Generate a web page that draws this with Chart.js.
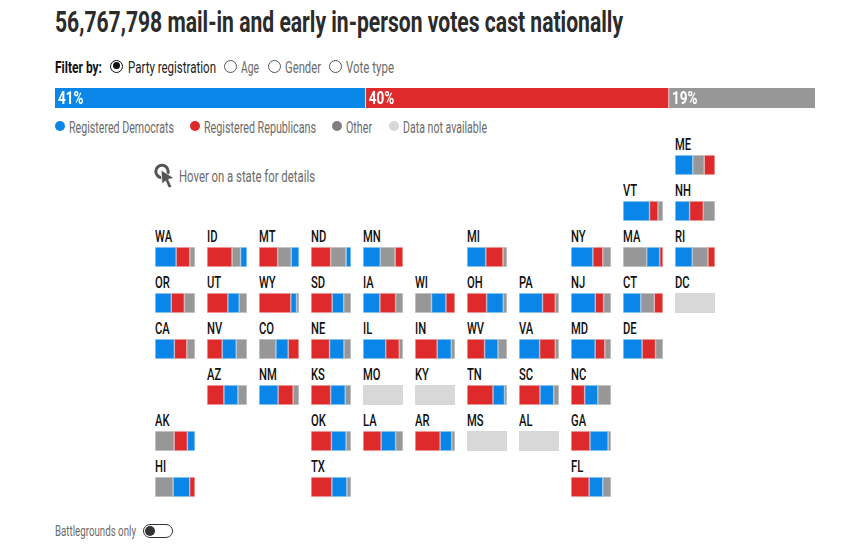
<!DOCTYPE html>
<html>
<head>
<meta charset="utf-8">
<title>Early votes</title>
<script src="https://cdn.jsdelivr.net/npm/chart.js@4"></script>
<style>
  html, body { margin: 0; padding: 0; background: #fff; overflow: hidden; }
  body { width: 854px; height: 556px; position: relative; font-family: "Roboto", sans-serif; }
  .txt { position: absolute; white-space: nowrap; transform-origin: left center; line-height: 20px; font-size: 17px; color: #6b6b6b; }
  .dot { position: absolute; width: 10px; height: 10px; border-radius: 50%; top: 121px; }
  .radio { position: absolute; top: 59.5px; width: 13px; height: 13px; border: 1px solid #555; border-radius: 50%; box-sizing: border-box; background: #fff; }
  .radio.on { border: 1.5px solid #111; }
  .radio.on::after { content: ""; position: absolute; left: 1.5px; top: 1.5px; width: 7px; height: 7px; border-radius: 50%; background: #111; }
  #nationalWrap { position: absolute; left: 55px; top: 88px; width: 760px; height: 20px; }
  #tiles { position: absolute; left: 155px; top: 133px; display: grid; grid-template-columns: repeat(11, 40px); grid-auto-rows: 42px; column-gap: 12px; row-gap: 4px; }
  .tile { width: 40px; height: 42px; position: relative; }
  .tile span { position: absolute; left: 0; top: 3px; font-size: 16px; font-weight: 500; line-height: 18px; color: #111; transform-origin: left center; transform: scaleX(.7); }
  .tile canvas { position: absolute; left: 0; top: 22px; }
  #toggle { position: absolute; left: 143px; top: 524px; width: 30px; height: 14px; border: 1.5px solid #333; border-radius: 8px; box-sizing: border-box; }
  #toggle::after { content: ""; position: absolute; left: 1px; top: 0.5px; width: 10px; height: 10px; border-radius: 50%; background: #333; }
</style>
</head>
<body>
<div class="txt" data-w="568" style="left:55px;top:9px;line-height:26px;font-size:29px;font-weight:bold;color:#2b2b2b">56,767,798 mail-in and early in-person votes cast nationally</div>

<div class="txt" data-w="47" style="left:55px;top:57px;font-weight:bold;color:#111">Filter by:</div>
<div class="radio on" style="left:110px"></div>
<div class="txt" data-w="88" style="left:128px;top:57px;color:#222">Party registration</div>
<div class="radio" style="left:224px"></div>
<div class="txt" data-w="18" style="left:241px;top:57px">Age</div>
<div class="radio" style="left:268px"></div>
<div class="txt" data-w="36" style="left:285px;top:57px">Gender</div>
<div class="radio" style="left:329px"></div>
<div class="txt" data-w="48" style="left:346px;top:57px">Vote type</div>

<div id="nationalWrap"><canvas id="nationalChart" width="760" height="20"></canvas></div>

<div class="dot" style="left:55px;background:#0a86e8"></div>
<div class="txt" data-w="105" style="left:69px;top:117px">Registered Democrats</div>
<div class="dot" style="left:190px;background:#de2a2a"></div>
<div class="txt" data-w="112" style="left:204px;top:117px">Registered Republicans</div>
<div class="dot" style="left:332px;background:#7f7f7f"></div>
<div class="txt" data-w="26" style="left:346px;top:117px">Other</div>
<div class="dot" style="left:389px;background:#d8d8d8"></div>
<div class="txt" data-w="84" style="left:403px;top:117px">Data not available</div>

<svg style="position:absolute;left:154px;top:163px" width="22" height="26" viewBox="0 0 22 26">
  <circle cx="8" cy="8.5" r="6.2" fill="none" stroke="#555" stroke-width="3"/>
  <path d="M7 7 L20 15 L14.5 16.5 L18 24 L14.5 25 L11.5 18 L8 21 Z" fill="#555" stroke="#fff" stroke-width="0.8"/>
</svg>
<div class="txt" data-w="136" style="left:179px;top:166px">Hover on a state for details</div>

<div id="tiles"></div>

<div class="txt" data-w="81" style="left:55px;top:521px;font-size:15px">Battlegrounds only</div>
<div id="toggle"></div>

<script>
// Chiffres nationaux (part des votes, %)
const nationalLabels = ['Registered Democrats', 'Registered Republicans', 'Other'];
const nationalValues = [40.9, 39.9, 19.2];

// Parts par État (null = pas de données)
const stateCodes = ['ME','VT','NH','WA','ID','MT','ND','MN','MI','NY','MA','RI','OR','UT','WY','SD','IA','WI','OH','PA','NJ','CT','DC','CA','NV','CO','NE','IL','IN','WV','VA','MD','DE','AZ','NM','KS','MO','KY','TN','SC','NC','AK','OK','LA','AR','MS','AL','GA','HI','TX','FL'];
const demShare = [43,63,35,53,16,19,12,42,46,53,32,42,40,28,14,28,41,35,41,57,59,43,null,47,34,30,35,55,35,33,50,58,46,34,46,36,null,null,28,33,32,19,36,35,28,null,null,44,40,36,33];
const repShare = [26,20,33,34,62,46,48,19,42,24,8,17,32,51,77,52,38,22,48,31,20,21,null,30,37,26,45,33,55,43,38,23,32,41,36,48,null,null,63,51,33,33,50,44,61,null,null,46,13,50,44];
const othShare = [28,12,28,13,21,34,38,36,10,20,58,38,26,19,6,18,18,40,9,9,18,33,null,20,26,41,17,9,9,22,9,15,18,22,14,14,null,null,6,13,32,48,12,18,8,null,null,7,44,10,20];

// Disposition de la carte en tuiles
const tileRows = [
    '. . . . . . . . . . ME',
    '. . . . . . . . . VT NH',
    'WA ID MT ND MN . MI . NY MA RI',
    'OR UT WY SD IA WI OH PA NJ CT DC',
    'CA NV CO NE IL IN WV VA MD DE .',
    '. AZ NM KS MO KY TN SC NC . .',
    'AK . . OK LA AR MS AL GA . .',
    'HI . . TX . . . . FL . .'
];

const partyColors = { dem: '#0a86e8', rep: '#de2a2a', oth: '#979797', na: '#d8d8d8' };
const partyRims = { dem: 'rgba(10,134,232,.35)', rep: 'rgba(222,42,42,.35)', oth: 'rgba(151,151,151,.45)', na: '#d8d8d8' };

// Ajuster la largeur des textes (la police d'origine n'est pas disponible)
document.querySelectorAll('.txt[data-w]').forEach(el => {
    const natural = el.getBoundingClientRect().width;
    el.style.transform = `scaleX(${el.dataset.w / natural})`;
});

// Étiquettes en pourcentage dans la barre nationale
const percentLabels = {
    id: 'percentLabels',
    afterDatasetsDraw(chart) {
        const ctx = chart.ctx;
        chart.data.datasets.forEach((ds, i) => {
            const bar = chart.getDatasetMeta(i).data[0];
            ctx.save();
            ctx.translate(bar.base + 3, bar.y + 1);
            ctx.scale(0.75, 1);
            ctx.fillStyle = '#fff';
            ctx.font = 'bold 18px Roboto, sans-serif';
            ctx.textBaseline = 'middle';
            ctx.fillText(`${Math.round(ds.data[0])}%`, 0, 0);
            ctx.restore();
        });
    }
};

function stackedBar(canvas, datasets, total, plugins) {
    return new Chart(canvas.getContext('2d'), {
        type: 'bar',
        data: { labels: [''], datasets: datasets },
        plugins: plugins || [],
        options: {
            indexAxis: 'y',
            responsive: false,
            animation: false,
            devicePixelRatio: 1,
            layout: { padding: 0 },
            plugins: { legend: { display: false }, tooltip: { enabled: false } },
            scales: {
                x: { stacked: true, display: false, min: 0, max: total },
                y: { stacked: true, display: false }
            }
        }
    });
}

stackedBar(
    document.getElementById('nationalChart'),
    nationalLabels.map((label, i) => ({
        label: label,
        data: [nationalValues[i]],
        backgroundColor: [partyColors.dem, partyColors.rep, partyColors.oth][i],
        borderColor: '#fff',
        borderWidth: i < 2 ? { right: 1 } : 0,
        borderSkipped: false,
        categoryPercentage: 1,
        barPercentage: 1
    })),
    nationalValues.reduce((sum, v) => sum + v, 0),
    [percentLabels]
);

// Une petite barre empilée par État, segments du plus grand au plus petit
const tiles = document.getElementById('tiles');
tileRows.forEach((row, r) => {
    row.split(' ').forEach((code, c) => {
        if (code === '.') return;
        const i = stateCodes.indexOf(code);
        const tile = document.createElement('div');
        tile.className = 'tile';
        tile.style.gridRow = r + 1;
        tile.style.gridColumn = c + 1;
        const label = document.createElement('span');
        label.textContent = code;
        tile.appendChild(label);
        const canvas = document.createElement('canvas');
        canvas.width = 40;
        canvas.height = 20;
        tile.appendChild(canvas);
        tiles.appendChild(tile);

        let parts;
        if (demShare[i] === null) {
            parts = [{ key: 'na', value: 100 }];
        } else {
            parts = [
                { key: 'dem', value: demShare[i] },
                { key: 'rep', value: repShare[i] },
                { key: 'oth', value: othShare[i] }
            ].sort((a, b) => b.value - a.value);
        }
        stackedBar(canvas, parts.map(p => ({
            label: p.key,
            data: [p.value],
            backgroundColor: partyColors[p.key],
            borderColor: partyRims[p.key],
            borderWidth: p.key === 'na' ? 0 : 1,
            borderSkipped: false,
            categoryPercentage: 1,
            barPercentage: 1
        })), parts.reduce((sum, p) => sum + p.value, 0));
    });
});
</script>
</body>
</html>
